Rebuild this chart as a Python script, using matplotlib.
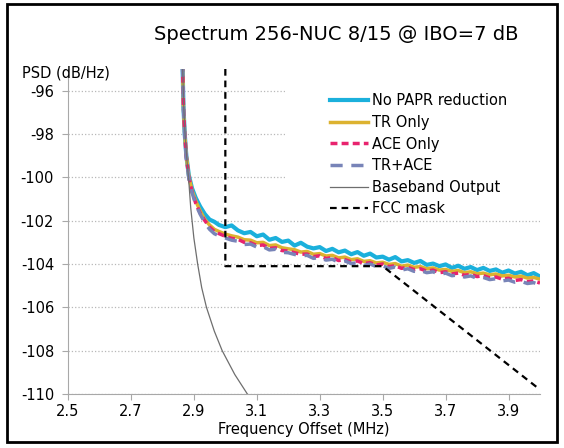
import numpy as np
import matplotlib
matplotlib.use("Agg")
from matplotlib import pyplot as plt
from matplotlib.patches import Rectangle

# frequency offset (MHz): steep head + tail sampled every 0.02 MHz
freq_head = [2.864, 2.867, 2.871, 2.876, 2.884, 2.894, 2.906, 2.92, 2.935, 2.95, 2.965, 2.98]
freq_tail = [3.00, 3.02, 3.04, 3.06, 3.08, 3.10, 3.12, 3.14, 3.16, 3.18,
             3.20, 3.22, 3.24, 3.26, 3.28, 3.30, 3.32, 3.34, 3.36, 3.38,
             3.40, 3.42, 3.44, 3.46, 3.48, 3.50, 3.52, 3.54, 3.56, 3.58,
             3.60, 3.62, 3.64, 3.66, 3.68, 3.70, 3.72, 3.74, 3.76, 3.78,
             3.80, 3.82, 3.84, 3.86, 3.88, 3.90, 3.92, 3.94, 3.96, 3.98, 4.00]

no_papr_head = [-94.8, -96.8, -98.0, -99.0, -99.9, -100.5, -100.95, -101.35, -101.7, -101.95, -102.05, -102.2]
no_papr_tail = [-102.30, -102.22, -102.45, -102.58, -102.52, -102.72, -102.64, -102.88, -102.80, -102.98,
                -102.92, -103.15, -103.02, -103.20, -103.28, -103.22, -103.40, -103.30, -103.46, -103.38,
                -103.55, -103.45, -103.62, -103.52, -103.70, -103.66, -103.80, -103.68, -103.88, -103.82,
                -103.95, -103.86, -104.04, -103.98, -104.10, -104.02, -104.18, -104.08, -104.22, -104.14,
                -104.28, -104.18, -104.32, -104.25, -104.40, -104.30, -104.44, -104.36, -104.52, -104.42, -104.58]

tr_head = [-94.8, -96.8, -98.0, -99.0, -99.95, -100.6, -101.1, -101.55, -101.95, -102.2, -102.4, -102.5]
tr_tail = [-102.62, -102.70, -102.76, -102.88, -102.90, -103.02, -103.00, -103.15, -103.12, -103.25,
           -103.30, -103.34, -103.45, -103.42, -103.55, -103.52, -103.63, -103.60, -103.72, -103.68,
           -103.80, -103.76, -103.88, -103.85, -103.95, -103.92, -104.02, -103.98, -104.10, -104.05,
           -104.15, -104.12, -104.22, -104.18, -104.28, -104.25, -104.34, -104.30, -104.40, -104.36,
           -104.45, -104.42, -104.50, -104.46, -104.55, -104.52, -104.60, -104.56, -104.65, -104.62, -104.70]

ace_head = [-94.8, -96.8, -98.0, -99.05, -100.0, -100.65, -101.2, -101.65, -102.0, -102.3, -102.5, -102.6]
ace_tail = [-102.72, -102.82, -102.86, -103.00, -103.02, -103.15, -103.12, -103.28, -103.25, -103.38,
            -103.40, -103.48, -103.55, -103.54, -103.66, -103.62, -103.75, -103.70, -103.84, -103.80,
            -103.90, -103.86, -103.98, -103.94, -104.05, -104.00, -104.12, -104.08, -104.20, -104.15,
            -104.26, -104.22, -104.33, -104.28, -104.40, -104.36, -104.46, -104.42, -104.52, -104.48,
            -104.58, -104.54, -104.64, -104.60, -104.70, -104.66, -104.76, -104.72, -104.82, -104.78, -104.88]

tr_ace_head = [-94.8, -96.8, -98.05, -99.1, -100.05, -100.7, -101.25, -101.7, -102.1, -102.4, -102.6, -102.7]
tr_ace_tail = [-102.80, -102.90, -102.95, -103.10, -103.08, -103.22, -103.20, -103.35, -103.32, -103.46,
               -103.48, -103.56, -103.62, -103.60, -103.74, -103.70, -103.82, -103.78, -103.92, -103.86,
               -103.98, -103.94, -104.06, -104.00, -104.12, -104.08, -104.20, -104.14, -104.28, -104.22,
               -104.34, -104.30, -104.40, -104.36, -104.48, -104.42, -104.54, -104.50, -104.60, -104.55,
               -104.66, -104.62, -104.72, -104.68, -104.78, -104.74, -104.84, -104.80, -104.90, -104.86, -104.96]

# baseband output (thin grey)
bb_freq = [2.864, 2.868, 2.872, 2.878, 2.884, 2.89, 2.90, 2.912, 2.925, 2.94, 2.965, 2.99, 3.03, 3.07, 3.10]
bb_psd = [-94.8, -96.8, -98.0, -99.2, -100.2, -101.4, -102.8, -104.0, -105.1, -106.0, -107.1, -108.0, -109.1, -110.0, -110.6]

# FCC mask
mask_freq = [3.0, 3.0, 3.5, 4.0]
mask_psd = [-95.0, -104.1, -104.1, -109.8]

fig = plt.figure(figsize=(5.64, 4.48), dpi=100)
ax = fig.add_axes([68/564, 1-394/448, (540-68)/564, (394-69)/448])

ax.plot(freq_head + freq_tail, no_papr_head + no_papr_tail, color="#1bb0dc", lw=3.0, label="No PAPR reduction", zorder=2)
ax.plot(freq_head + freq_tail, tr_head + tr_tail, color="#dcb230", lw=2.5, label="TR Only", zorder=3)
ax.plot(freq_head + freq_tail, ace_head + ace_tail, color="#e8236e", lw=2.5, ls=(0, (2.0, 1.2)), label="ACE Only", zorder=4)
ax.plot(freq_head + freq_tail, tr_ace_head + tr_ace_tail, color="#7884b8", lw=2.5, ls=(0, (3.5, 2.5)), label="TR+ACE", zorder=5)
ax.plot(bb_freq, bb_psd, color="#6e6e6e", lw=0.9, label="Baseband Output", zorder=6)
ax.plot(mask_freq, mask_psd, color="black", lw=1.6, ls=(0, (3, 2.2)), label="FCC mask", zorder=7)

ax.set_xlim(2.5, 4.0)
ax.set_ylim(-110, -95)
ax.set_xticks([2.5, 2.7, 2.9, 3.1, 3.3, 3.5, 3.7, 3.9])
ax.set_xticklabels(["2.5", "2.7", "2.9", "3.1", "3.3", "3.5", "3.7", "3.9"])
ax.set_yticks([-110, -108, -106, -104, -102, -100, -98, -96])
ax.set_yticklabels(["-110", "-108", "-106", "-104", "-102", "-100", "-98", "-96"])

ax.set_axisbelow(True)
ax.yaxis.grid(True, color="#b8b8b8", ls=":", lw=0.9)
for s in ["top", "right"]:
    ax.spines[s].set_visible(False)
for s in ["left", "bottom"]:
    ax.spines[s].set_color("#a8a8a8")
ax.tick_params(axis="both", colors="#a8a8a8", labelcolor="black", labelsize=10.5, length=4)
ax.tick_params(axis="y", pad=6)
ax.tick_params(axis="x", pad=3)

# white box behind legend hides gridlines
ax.add_patch(Rectangle((0.46, 0.545), 0.54, 0.43, transform=ax.transAxes,
                       facecolor="white", edgecolor="none", zorder=1))

ax.legend(loc="upper left", bbox_to_anchor=(0.555, 0.925), frameon=False,
          fontsize=10.5, handlelength=2.6, handletextpad=0.3, labelspacing=0.45,
          borderpad=0, borderaxespad=0)

ax.set_xlabel("Frequency Offset (MHz)", fontsize=10.5, labelpad=2)
fig.text(22/564, 1-73/448, "PSD (dB/Hz)", fontsize=10.5, ha="left", va="center")
fig.text(336/564, 1-34/448, "Spectrum 256-NUC 8/15 @ IBO=7 dB", fontsize=14, ha="center", va="center")

fig.patches.append(Rectangle((7/564, 1-442/448), 550/564, 438/448, transform=fig.transFigure,
                             facecolor="none", edgecolor="black", lw=2.0, zorder=10))

fig.savefig("out.png", dpi=100)
